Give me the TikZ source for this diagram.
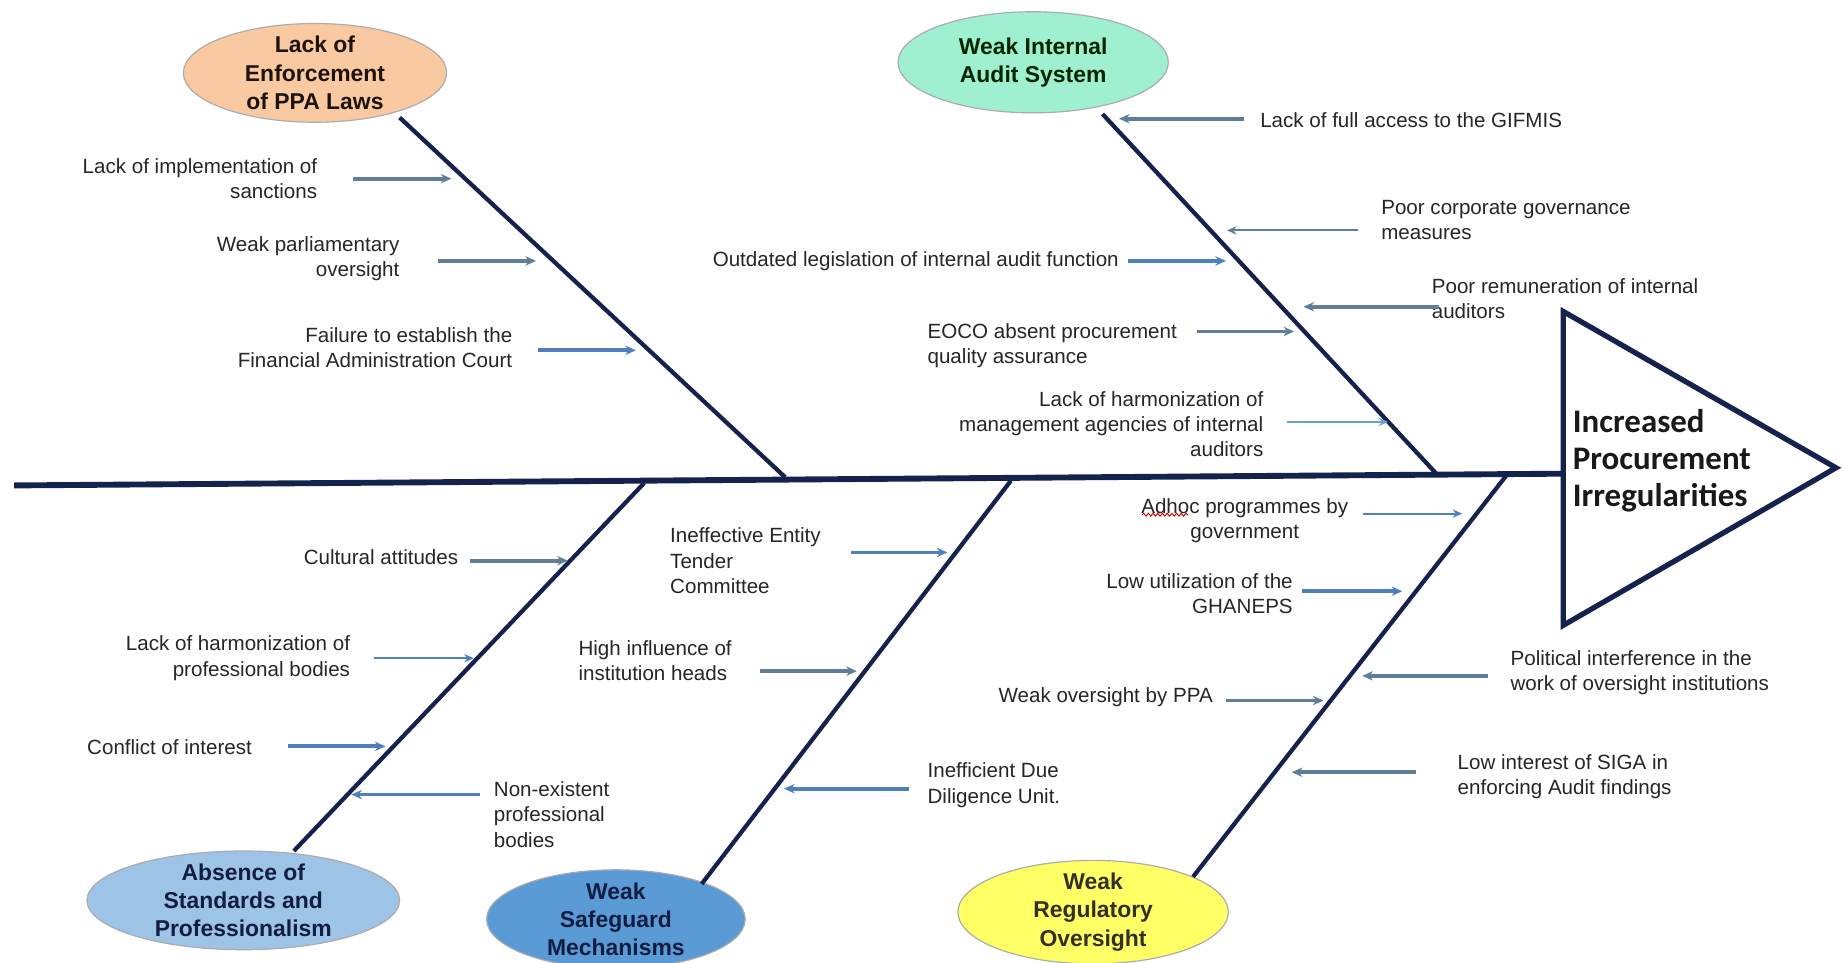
\documentclass[tikz,border=0pt]{standalone}
\usepackage{fontspec}
\setmainfont{Liberation Sans}
\newfontfamily\headfont{Carlito}
\usetikzlibrary{shapes.geometric,arrows.meta,decorations.pathmorphing}

\definecolor{navy}{HTML}{15224E}
\definecolor{arrgray}{HTML}{5E7F97}
\definecolor{arrblue}{HTML}{4E80BE}
\definecolor{arrlight}{HTML}{6FA0D0}
\definecolor{txtgray}{HTML}{262626}
\definecolor{peach}{HTML}{F9C9A1}
\definecolor{mint}{HTML}{9FEFD1}
\definecolor{lblue}{HTML}{9DC3E6}
\definecolor{mblue}{HTML}{5B9BD5}
\definecolor{yellowf}{HTML}{FFFF66}

\tikzset{
  spineline/.style={draw=navy, line width=5pt},
  boneline/.style={draw=navy, line width=3.6pt},
  causeell/.style={ellipse, draw=gray!65, line width=1pt, inner sep=0pt},
  causetxt/.style={align=center, inner sep=0pt,
    font=\bfseries\fontsize{19.5}{24}\selectfont},
  lbl/.style={inner sep=0pt, text=txtgray, font=\fontsize{17.5}{21.5}\selectfont},
  arrthick/.style={line width=3.2pt, -{Stealth[length=9pt,width=8pt]}},
  arrthin/.style={line width=1.8pt, -{Stealth[length=8pt,width=7pt]}},
}

\begin{document}
\begin{tikzpicture}[x=1pt,y=-1pt]
\useasboundingbox (0,0) rectangle (1568,819);
\fill[white] (0,0) rectangle (1568,819);

% ---- head: outcome triangle and spine ----
\coordinate (tA) at (1330,265);
\coordinate (tB) at (1330,532);
\coordinate (tC) at (1562,398);
\coordinate (spineL) at (12,413);
\coordinate (spineR) at (1330,403);
\draw[spineline] (spineL) -- (spineR);
\draw[draw=navy, line width=4.5pt, line join=miter, fill=white] (tA) -- (tC) -- (tB) -- cycle;
\node[anchor=west, align=left, inner sep=0pt, text=black!90,
      font=\headfont\bfseries\fontsize{28}{31.5}\selectfont] (outcome) at (1338,392)
  {Increased\\Procurement\\Irregularities};

% ---- cause ellipses ----
\node[causeell, fill=peach, minimum width=224pt, minimum height=84pt] (e1) at (268,62) {};
\node[causetxt, text=black!85!brown] (e1t) at (e1) {Lack of\\Enforcement\\of PPA Laws};

\node[causeell, fill=mint, minimum width=230pt, minimum height=86pt] (e2) at (879,53) {};
\node[causetxt, text=black!85!green] (e2t) at (e2) {Weak Internal\\Audit System};

\node[causeell, fill=lblue, minimum width=266pt, minimum height=84pt] (e3) at (207,766) {};
\node[causetxt, text=navy!85!black] (e3t) at (e3) {Absence of\\Standards and\\Professionalism};

\node[causeell, fill=mblue, minimum width=220pt, minimum height=84pt] (e4) at (524,782) {};
\node[causetxt, text=navy!85!black] (e4t) at (e4) {Weak\\Safeguard\\Mechanisms};

\node[causeell, fill=yellowf, minimum width=230pt, minimum height=88pt] (e5) at (930,776) {};
\node[causetxt, text=black!85!olive] (e5t) at (e5) {Weak\\Regulatory\\Oversight};

% ---- bones ----
\coordinate (b1top) at (340,100);  \coordinate (b1bot) at (668,406);
\coordinate (b2top) at (938,97);   \coordinate (b2bot) at (1222,403);
\coordinate (b3top) at (548,411);  \coordinate (b3bot) at (250,724);
\coordinate (b4top) at (860,409);  \coordinate (b4bot) at (597,752);
\coordinate (b5top) at (1282,404); \coordinate (b5bot) at (1015,746);
\draw[boneline] (b1top) -- (b1bot);
\draw[boneline] (b2top) -- (b2bot);
\draw[boneline] (b3top) -- (b3bot);
\draw[boneline] (b4top) -- (b4bot);
\draw[boneline] (b5top) -- (b5bot);

% ---- sub-causes: Lack of Enforcement of PPA Laws ----
\node[lbl, anchor=east, align=right] (l1) at (270,152) {Lack of implementation of\\sanctions};
\node[lbl, anchor=east, align=right] (l2) at (340,220) {Weak parliamentary\\oversight};
\node[lbl, anchor=east, align=right] (l3) at (436,296) {Failure to establish the\\Financial Administration Court};
\coordinate (a1s) at (300,152);  \coordinate (a1e) at (384,152);
\coordinate (a2s) at (373,222);  \coordinate (a2e) at (456,222);
\coordinate (a3s) at (458,298);  \coordinate (a3e) at (541,298);
\draw[arrthick, arrgray] (a1s) -- (a1e);
\draw[arrthick, arrgray] (a2s) -- (a2e);
\draw[arrthick, arrblue] (a3s) -- (a3e);

% ---- sub-causes: Weak Internal Audit System ----
\node[lbl, anchor=west] (l4) at (1072,102) {Lack of full access to the GIFMIS};
\node[lbl, anchor=west, align=left] (l5) at (1175,187) {Poor corporate governance\\measures};
\node[lbl, anchor=east] (l6) at (952,222) {Outdated legislation of internal audit function};
\node[lbl, anchor=west, align=left] (l7) at (1218,254) {Poor remuneration of internal\\auditors};
\node[lbl, anchor=west, align=left] (l8) at (789,294) {EOCO absent procurement\\quality assurance};
\node[lbl, anchor=east, align=right] (l9) at (1075,361) {Lack of harmonization of\\management agencies of internal\\auditors};
\coordinate (a4s) at (1058,101); \coordinate (a4e) at (952,101);
\coordinate (a5s) at (1155,196); \coordinate (a5e) at (1044,196);
\coordinate (a6s) at (960,222);  \coordinate (a6e) at (1043,222);
\coordinate (a7s) at (1224,261); \coordinate (a7e) at (1109,261);
\coordinate (a8s) at (1018,282); \coordinate (a8e) at (1101,282);
\coordinate (a9s) at (1095,359); \coordinate (a9e) at (1181,359);
\draw[arrthick, arrgray] (a4s) -- (a4e);
\draw[arrthin, arrgray] (a5s) -- (a5e);
\draw[arrthick, arrblue] (a6s) -- (a6e);
\draw[arrthick, arrgray] (a7s) -- (a7e);
\draw[arrthick, arrgray] (a8s) -- (a8e);
\draw[arrthin, arrlight] (a9s) -- (a9e);

% ---- sub-causes: Absence of Standards and Professionalism ----
\node[lbl, anchor=east] (l10) at (390,474) {Cultural attitudes};
\node[lbl, anchor=east, align=right] (l11) at (298,560) {Lack of harmonization of\\professional bodies};
\node[lbl, anchor=west] (l12) at (74,636) {Conflict of interest};
\node[lbl, anchor=west, align=left] (l13) at (420,693) {Non-existent\\professional\\bodies};
\coordinate (a10s) at (400,477); \coordinate (a10e) at (483,477);
\coordinate (a11s) at (318,560); \coordinate (a11e) at (403,560);
\coordinate (a12s) at (245,635); \coordinate (a12e) at (328,635);
\coordinate (a13s) at (408,676); \coordinate (a13e) at (299,676);
\draw[arrthick, arrgray] (a10s) -- (a10e);
\draw[arrthin, arrblue] (a11s) -- (a11e);
\draw[arrthick, arrblue] (a12s) -- (a12e);
\draw[arrthick, arrblue] (a13s) -- (a13e);

% ---- sub-causes: Weak Safeguard Mechanisms ----
\node[lbl, anchor=west, align=left] (l14) at (570,477) {Ineffective Entity\\Tender\\Committee};
\node[lbl, anchor=west, align=left] (l15) at (492,562) {High influence of\\institution heads};
\node[lbl, anchor=west, align=left] (l16) at (789,668) {Inefficient Due\\Diligence Unit.};
\coordinate (a14s) at (724,470); \coordinate (a14e) at (806,470);
\coordinate (a15s) at (647,571); \coordinate (a15e) at (729,571);
\coordinate (a16s) at (773,671); \coordinate (a16e) at (667,671);
\draw[arrthick, arrblue] (a14s) -- (a14e);
\draw[arrthick, arrgray] (a15s) -- (a15e);
\draw[arrthick, arrblue] (a16s) -- (a16e);

% ---- sub-causes: Weak Regulatory Oversight ----
\node[lbl, anchor=center, align=center] (l17) at (1059,443) {Adhoc programmes by\\government};
\draw[red!80!black, line width=0.8pt, decorate,
      decoration={snake, amplitude=1.2pt, segment length=4pt}]
  ([xshift=1pt,yshift=-14pt]l17.north west) -- ([xshift=40pt,yshift=-14pt]l17.north west);
\node[lbl, anchor=east, align=right] (l18) at (1100,505) {Low utilization of the\\GHANEPS};
\node[lbl, anchor=west, align=left] (l19) at (1285,572) {Political interference in the\\work of oversight institutions};
\node[lbl, anchor=east] (l20) at (1032,593) {Weak oversight by PPA};
\node[lbl, anchor=west, align=left] (l21) at (1240,661) {Low interest of SIGA in\\enforcing Audit findings};
\coordinate (a17s) at (1160,437); \coordinate (a17e) at (1244,437);
\coordinate (a18s) at (1108,503); \coordinate (a18e) at (1193,503);
\coordinate (a19s) at (1266,575); \coordinate (a19e) at (1159,575);
\coordinate (a20s) at (1043,596); \coordinate (a20e) at (1126,596);
\coordinate (a21s) at (1205,657); \coordinate (a21e) at (1099,657);
\draw[arrthin, arrblue] (a17s) -- (a17e);
\draw[arrthick, arrblue] (a18s) -- (a18e);
\draw[arrthick, arrgray] (a19s) -- (a19e);
\draw[arrthick, arrgray] (a20s) -- (a20e);
\draw[arrthick, arrgray] (a21s) -- (a21e);
\end{tikzpicture}
\end{document}
